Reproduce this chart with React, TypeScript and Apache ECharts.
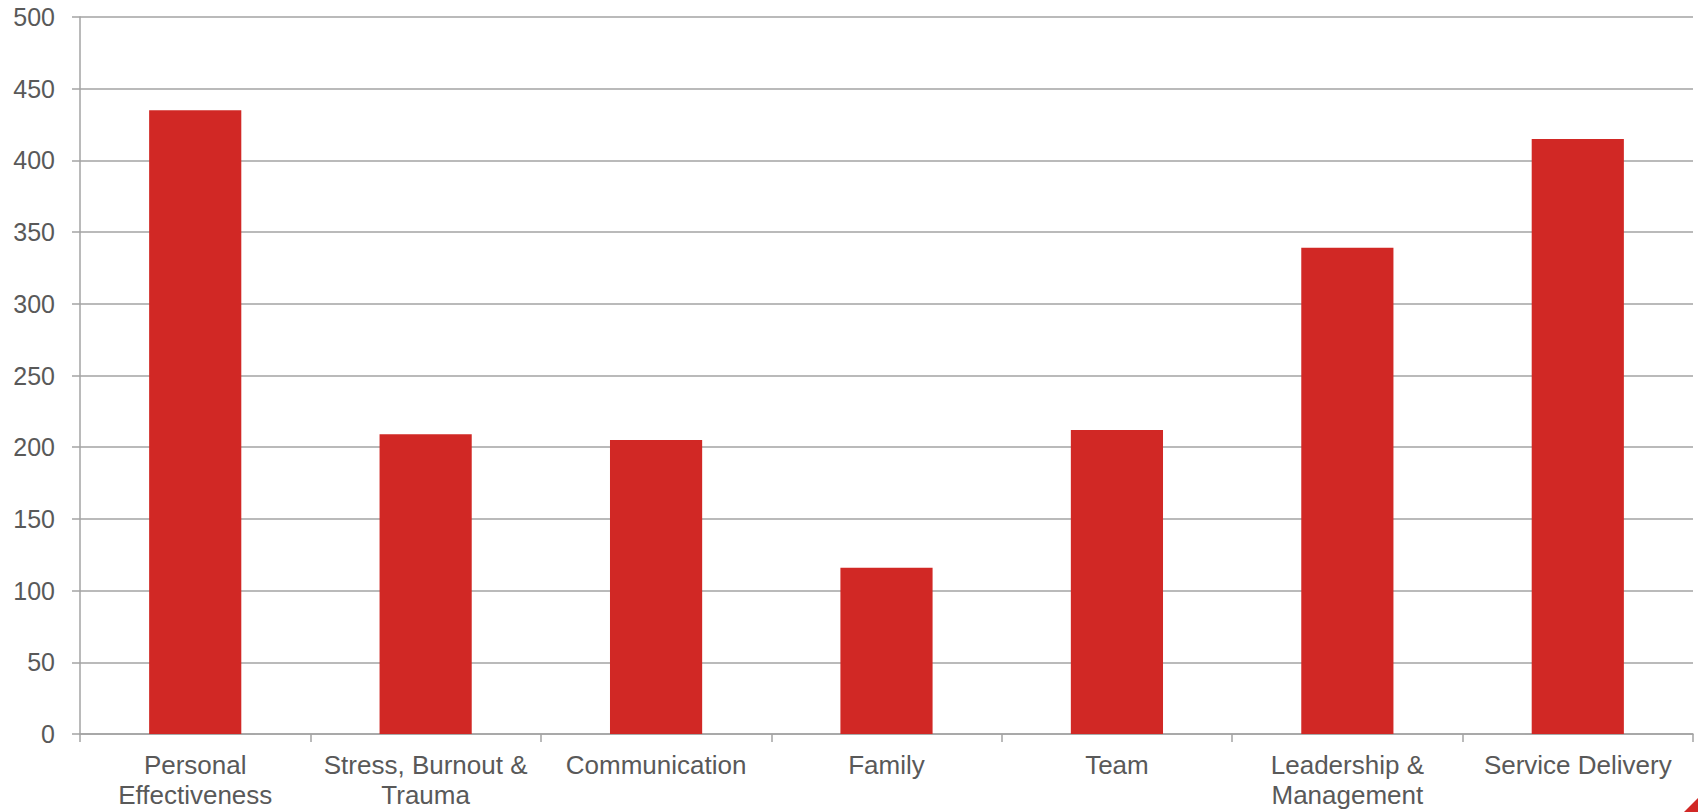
import React, { useEffect, useRef } from "react";
import * as echarts from "echarts";

const categories = [
  "Personal\nEffectiveness",
  "Stress, Burnout &\nTrauma",
  "Communication",
  "Family",
  "Team",
  "Leadership &\nManagement",
  "Service Delivery",
];
const values = [435, 209, 205, 116, 212, 339, 415];
const yMin = 0;
const yMax = 500;
const yInterval = 50;

const BAR_COLOR = "#D12825";
const TEXT_COLOR = "#595959";
const LINE_COLOR = "#A3A3A3";
const FONT = "'Liberation Sans', Arial, sans-serif";

export default function App() {
  const ref = useRef<HTMLDivElement>(null);
  useEffect(() => {
    if (!ref.current) return;
    const chart = echarts.init(ref.current, undefined, { renderer: "svg" });
    chart.setOption({
      animation: false,
      backgroundColor: "#ffffff",
      grid: { left: 80, right: 5, top: 17, bottom: 78, containLabel: false },
      xAxis: {
        type: "category",
        data: categories,
        axisLine: { show: true, lineStyle: { color: LINE_COLOR, width: 1.5 } },
        axisTick: { show: true, length: 8, lineStyle: { color: LINE_COLOR, width: 1.5 } },
        axisLabel: {
          color: TEXT_COLOR,
          fontSize: 26,
          fontFamily: FONT,
          lineHeight: 30,
          margin: 16,
          interval: 0,
          align: "center",
        },
        splitLine: { show: false },
      },
      yAxis: {
        type: "value",
        min: yMin,
        max: yMax,
        interval: yInterval,
        axisLine: { show: true, lineStyle: { color: LINE_COLOR, width: 1.5 } },
        axisTick: { show: true, length: 8, lineStyle: { color: LINE_COLOR, width: 1.5 } },
        axisLabel: {
          color: TEXT_COLOR,
          fontSize: 25,
          fontFamily: FONT,
          margin: 25,
        },
        splitLine: { show: true, lineStyle: { color: LINE_COLOR, width: 1.5 } },
      },
      series: [
        {
          type: "bar",
          data: values,
          barWidth: "40%",
          itemStyle: { color: BAR_COLOR },
        },
      ],
      graphic: [
        {
          type: "polygon",
          shape: { points: [[1684, 812], [1698, 798], [1698, 812]] },
          style: { fill: BAR_COLOR },
          silent: true,
        },
      ],
    });
    return () => chart.dispose();
  }, []);
  return (
    <div
      ref={ref}
      style={{ position: "fixed", left: 0, top: 0, width: 1698, height: 812 }}
    />
  );
}
